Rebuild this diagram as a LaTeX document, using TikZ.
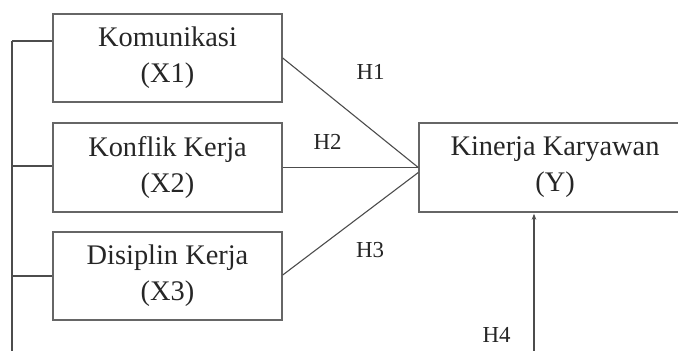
\documentclass[tikz,border=0pt]{standalone}
\usepackage{fontspec}
\setmainfont{Liberation Serif}
\usetikzlibrary{arrows.meta}
\tikzset{
  varbox/.style={draw=black!60, line width=1.4bp, rectangle, inner sep=0pt, align=center,
    font=\fontsize{28.5}{36}\selectfont, text=black!85},
  hlabel/.style={inner sep=0pt, font=\fontsize{23}{28}\selectfont, text=black!85},
  link/.style={draw=black!70, line width=1.1bp},
}
\begin{document}
\begin{tikzpicture}[x=1bp, y=-1bp]
\clip (0,0) rectangle (678,350);
\node[varbox, minimum width=229bp, minimum height=88bp] (X1) at (167.5,58) {Komunikasi\\(X1)};
\node[varbox, minimum width=229bp, minimum height=89bp] (X2) at (167.5,167.5) {Konflik Kerja\\(X2)};
\node[varbox, minimum width=229bp, minimum height=88bp] (X3) at (167.5,276) {Disiplin Kerja\\(X3)};
\node[varbox, minimum width=272bp, minimum height=89bp] (Y) at (555,167.5) {Kinerja Karyawan\\(Y)};
\coordinate (btop) at (12,41);
\coordinate (bbot) at (12,352);
\coordinate (b2) at (12,166);
\coordinate (b3) at (12,276);
\draw[link] (btop) -- (bbot);
\draw[link] (btop) -- (btop -| X1.west);
\draw[link] (b2) -- (b2 -| X2.west);
\draw[link] (b3) -- (b3 -| X3.west);
\draw[link] (X1.east) -- (Y.west);
\draw[link] (X2.east) -- (Y.west);
\draw[link] ([yshift=1bp]X3.east) -- ([yshift=-5bp]Y.west);
\coordinate (h4b) at (534,352);
\draw[link, -{Stealth[length=6bp,width=4.5bp]}] (h4b) -- ([yshift=-1bp]h4b |- Y.south);
\node[hlabel] (H1) at (370.5,72) {H1};
\node[hlabel] (H2) at (327.5,141.5) {H2};
\node[hlabel] (H3) at (370,250) {H3};
\node[hlabel] (H4) at (496.5,335) {H4};
\end{tikzpicture}
\end{document}
